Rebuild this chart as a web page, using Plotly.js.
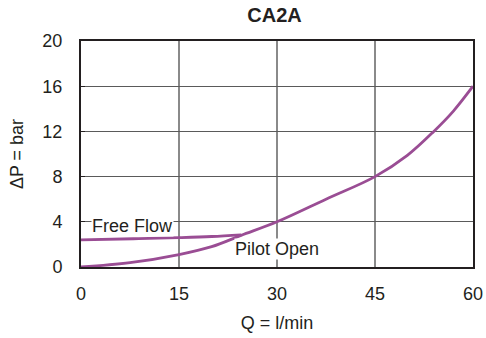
<!DOCTYPE html>
<html>
<head>
<meta charset="utf-8">
<script src="https://cdn.plot.ly/plotly-3.0.1.min.js"></script>
<style>
  html, body { margin: 0; padding: 0; background: #fff; }
  #chart { width: 486px; height: 338px; }
</style>
</head>
<body>
<div id="chart"></div>
<script>
// Pressure drop vs. flow for CA2A
const qPilot  = [0, 7.5, 15, 20, 24.5, 30, 37.5, 45, 50, 54, 57, 60];
const dpPilot = [0, 0.38, 1.1, 1.8, 2.8, 4.0, 6.0, 8.0, 9.9, 12, 13.8, 16];

const qFree  = [0, 8, 15, 20, 24.5];
const dpFree = [2.4, 2.5, 2.6, 2.7, 2.85];

const xTicks = [0, 15, 30, 45, 60];
const yTicks = [0, 4, 8, 12, 16, 20];

const lineColor = '#9a4d94';
const font = 'Liberation Sans, Arial, sans-serif';
const ink = '#231f20';

const traces = [
  { x: qPilot, y: dpPilot, mode: 'lines', line: { color: lineColor, width: 2.8, shape: 'spline', smoothing: 1 }, hoverinfo: 'skip' },
  { x: qFree, y: dpFree, mode: 'lines', line: { color: lineColor, width: 2.8, shape: 'spline', smoothing: 1 }, hoverinfo: 'skip' }
];

const layout = {
  width: 486, height: 338,
  margin: { l: 81, r: 13, t: 41, b: 71 },
  paper_bgcolor: '#fff', plot_bgcolor: '#fff',
  showlegend: false,
  font: { family: font, color: ink, size: 18 },
  title: { text: '<b>CA2A</b>', x: 0.565, xanchor: 'center', y: 0.955, yanchor: 'middle', font: { family: font, size: 20, color: ink } },
  xaxis: {
    range: [0, 60], tickvals: xTicks, ticktext: xTicks.map(String),
    showgrid: true, gridcolor: '#8a8a8a', gridwidth: 1.3,
    zeroline: false, showline: true, linecolor: ink, linewidth: 2, mirror: true,
    ticks: '', ticklabelstandoff: 9, tickfont: { size: 18 },
    title: { text: 'Q = l/min', font: { size: 18 }, standoff: 14 }
  },
  yaxis: {
    range: [0, 20], tickvals: yTicks, ticktext: yTicks.map(String),
    showgrid: true, gridcolor: '#5a5a5a', gridwidth: 1.3,
    zeroline: false, showline: true, linecolor: ink, linewidth: 2, mirror: true,
    ticks: 'inside', ticklen: 4, tickcolor: ink, ticklabelstandoff: 13, tickfont: { size: 18 },
    title: { text: 'ΔP = bar', font: { size: 18 }, standoff: 14 }
  },
  annotations: [
    { x: 1.5, y: 3.63, xref: 'x', yref: 'y', text: 'Free Flow', showarrow: false, xanchor: 'left', yanchor: 'middle',
      bgcolor: '#fff', borderpad: 0, font: { size: 18, color: ink } },
    { x: 30, y: 1.6, xref: 'x', yref: 'y', text: 'Pilot Open', showarrow: false, xanchor: 'center', yanchor: 'middle',
      bgcolor: '#fff', borderpad: 0, font: { size: 18, color: ink } }
  ]
};

Plotly.newPlot('chart', traces, layout, { displayModeBar: false, staticPlot: true });
</script>
</body>
</html>
